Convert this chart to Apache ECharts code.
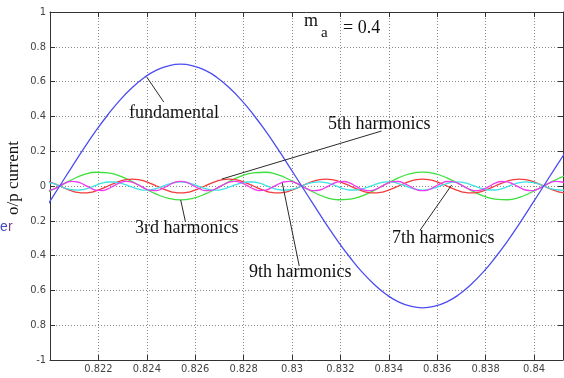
<!DOCTYPE html>
<html>
<head>
<meta charset="utf-8">
<script src="https://cdn.jsdelivr.net/npm/echarts@6/dist/echarts.min.js"></script>
<style>
  html, body { margin: 0; padding: 0; background: #fff; }
  #chart { width: 564px; height: 378px; }
</style>
</head>
<body>
<div id="chart"></div>
<script>
// time axis (s), coarse step for fundamental / 3rd, fine step for 5th, 7th, 9th
const tCoarse = [
  0.8199, 0.8204, 0.8209, 0.8214, 0.8219, 0.8224, 0.8229, 0.8234, 0.8239, 0.8244,
  0.8249, 0.8254, 0.8259, 0.8264, 0.8269, 0.8274, 0.8279, 0.8284, 0.8289, 0.8294,
  0.8299, 0.8304, 0.8309, 0.8314, 0.8319, 0.8324, 0.8329, 0.8334, 0.8339, 0.8344,
  0.8349, 0.8354, 0.8359, 0.8364, 0.8369, 0.8374, 0.8379, 0.8384, 0.8389, 0.8394,
  0.8399, 0.8404, 0.8409, 0.8414
]
const fundamental = [
  -0.109, 0, 0.109, 0.216, 0.318, 0.411, 0.495, 0.566, 0.624, 0.666,
  0.691, 0.7, 0.691, 0.666, 0.624, 0.566, 0.495, 0.411, 0.318, 0.216,
  0.109, 0, -0.109, -0.216, -0.318, -0.411, -0.495, -0.566, -0.624, -0.666,
  -0.691, -0.7, -0.691, -0.666, -0.624, -0.566, -0.495, -0.411, -0.318, -0.216,
  -0.109, 0, 0.109, 0.216
]
const third = [
  -0.036, 0, 0.036, 0.065, 0.079, 0.076, 0.057, 0.025, -0.013, -0.047,
  -0.071, -0.08, -0.071, -0.047, -0.013, 0.025, 0.057, 0.076, 0.079, 0.065,
  0.036, 0, -0.036, -0.065, -0.079, -0.076, -0.057, -0.025, 0.013, 0.047,
  0.071, 0.08, 0.071, 0.047, 0.013, -0.025, -0.057, -0.076, -0.079, -0.065,
  -0.036, 0, 0.036, 0.065
]

const tFine = [
  0.8199, 0.82015, 0.8204, 0.82065,
  0.8209, 0.82115, 0.8214, 0.82165,
  0.8219, 0.82215, 0.8224, 0.82265,
  0.8229, 0.82315, 0.8234, 0.82365,
  0.8239, 0.82415, 0.8244, 0.82465,
  0.8249, 0.82515, 0.8254, 0.82565,
  0.8259, 0.82615, 0.8264, 0.82665,
  0.8269, 0.82715, 0.8274, 0.82765,
  0.8279, 0.82815, 0.8284, 0.82865,
  0.8289, 0.82915, 0.8294, 0.82965,
  0.8299, 0.83015, 0.8304, 0.83065,
  0.8309, 0.83115, 0.8314, 0.83165,
  0.8319, 0.83215, 0.8324, 0.83265,
  0.8329, 0.83315, 0.8334, 0.83365,
  0.8339, 0.83415, 0.8344, 0.83465,
  0.8349, 0.83515, 0.8354, 0.83565,
  0.8359, 0.83615, 0.8364, 0.83665,
  0.8369, 0.83715, 0.8374, 0.83765,
  0.8379, 0.83815, 0.8384, 0.83865,
  0.8389, 0.83915, 0.8394, 0.83965,
  0.8399, 0.84015, 0.8404, 0.84065,
  0.8409, 0.84115, 0.8414
]
const fifth = [
  0.028, 0.015, 0, -0.015,
  -0.028, -0.037, -0.04, -0.037,
  -0.028, -0.015, 0, 0.015,
  0.028, 0.037, 0.04, 0.037,
  0.028, 0.015, 0, -0.015,
  -0.028, -0.037, -0.04, -0.037,
  -0.028, -0.015, 0, 0.015,
  0.028, 0.037, 0.04, 0.037,
  0.028, 0.015, 0, -0.015,
  -0.028, -0.037, -0.04, -0.037,
  -0.028, -0.015, 0, 0.015,
  0.028, 0.037, 0.04, 0.037,
  0.028, 0.015, 0, -0.015,
  -0.028, -0.037, -0.04, -0.037,
  -0.028, -0.015, 0, 0.015,
  0.028, 0.037, 0.04, 0.037,
  0.028, 0.015, 0, -0.015,
  -0.028, -0.037, -0.04, -0.037,
  -0.028, -0.015, 0, 0.015,
  0.028, 0.037, 0.04, 0.037,
  0.028, 0.015, 0, -0.015,
  -0.028, -0.037, -0.04
]
const seventh = [
  0.021, 0.013, 0, -0.013,
  -0.021, -0.024, -0.019, -0.009,
  0.004, 0.016, 0.023, 0.023,
  0.017, 0.006, -0.007, -0.018,
  -0.024, -0.022, -0.014, -0.002,
  0.011, 0.020, 0.024, 0.020,
  0.011, -0.002, -0.014, -0.022,
  -0.024, -0.018, -0.007, 0.006,
  0.017, 0.023, 0.023, 0.016,
  0.004, -0.009, -0.019, -0.024,
  -0.021, -0.013, 0, 0.013,
  0.021, 0.024, 0.019, 0.009,
  -0.004, -0.016, -0.023, -0.023,
  -0.017, -0.006, 0.007, 0.018,
  0.024, 0.022, 0.014, 0.002,
  -0.011, -0.020, -0.024, -0.020,
  -0.011, 0.002, 0.014, 0.022,
  0.024, 0.018, 0.007, -0.006,
  -0.017, -0.023, -0.023, -0.016,
  -0.004, 0.009, 0.019, 0.024,
  0.021, 0.013, 0, -0.013,
  -0.021, -0.024, -0.019
]
const ninth = [
  -0.027, -0.018, 0, 0.018,
  0.027, 0.023, 0.008, -0.010,
  -0.024, -0.026, -0.016, 0.002,
  0.019, 0.027, 0.022, 0.006,
  -0.012, -0.025, -0.026, -0.014,
  0.004, 0.021, 0.027, 0.021,
  0.004, -0.014, -0.026, -0.025,
  -0.012, 0.006, 0.022, 0.027,
  0.019, 0.002, -0.016, -0.026,
  -0.024, -0.010, 0.008, 0.023,
  0.027, 0.018, 0, -0.018,
  -0.027, -0.023, -0.008, 0.010,
  0.024, 0.026, 0.016, -0.002,
  -0.019, -0.027, -0.022, -0.006,
  0.012, 0.025, 0.026, 0.014,
  -0.004, -0.021, -0.027, -0.021,
  -0.004, 0.014, 0.026, 0.025,
  0.012, -0.006, -0.022, -0.027,
  -0.019, -0.002, 0.016, 0.026,
  0.024, 0.010, -0.008, -0.023,
  -0.027, -0.018, 0, 0.018,
  0.027, 0.023, 0.008
]

const xTickLabels = ['0.82', '0.822', '0.824', '0.826', '0.828', '0.83', '0.832', '0.834', '0.836', '0.838', '0.84']
// the scan lost the minus signs below zero, except on -1
const yTickLabels = ['-1', '0.8', '0.6', '0.4', '0.2', '0', '0.2', '0.4', '0.6', '0.8', '1']

const pairs = (xs, ys) => xs.map((x, i) => [x, ys[i]])

const tickFont = { color: '#444', fontSize: 11, fontFamily: "'Liberation Sans Narrow', 'DejaVu Sans Condensed', 'Liberation Sans', sans-serif" }
const serif = "'Liberation Serif', 'Times New Roman', serif"
const frame = { onZero: false, lineStyle: { color: '#333', width: 1 } }
const tick = { show: true, inside: true, length: 5, lineStyle: { color: '#333' } }
const dotted = { show: true, lineStyle: { color: '#8a8a8a', type: [1, 2], width: 1 } }

const chart = echarts.init(document.getElementById('chart'))

const curve = (name, xs, ys, color, extra) => Object.assign({
  name,
  type: 'line',
  data: pairs(xs, ys),
  showSymbol: false,
  smooth: true,
  clip: true,
  silent: true,
  lineStyle: { color, width: 1.3 }
}, extra || {})

const note = (left, top, text, size) => ({
  type: 'text',
  left, top,
  silent: true,
  style: { text, fill: '#111', font: (size || 18) + 'px ' + serif }
})

chart.setOption({
  animation: false,
  backgroundColor: '#fff',
  grid: { left: 50, right: 1, top: 12, bottom: 18 },
  xAxis: [{
    type: 'value',
    min: 0.82,
    max: 0.8412,
    interval: 0.002,
    axisLine: frame,
    axisTick: tick,
    axisLabel: Object.assign({
      margin: 4,
      showMinLabel: false,
      showMaxLabel: false,
      formatter: v => xTickLabels[Math.round((v - 0.82) / 0.002)] || ''
    }, tickFont),
    splitLine: dotted
  }, {
    type: 'value',
    position: 'top',
    min: 0.82,
    max: 0.8412,
    interval: 0.002,
    axisLine: frame,
    axisTick: tick,
    axisLabel: { show: false },
    splitLine: { show: false }
  }],
  yAxis: [{
    type: 'value',
    min: -1,
    max: 1,
    interval: 0.2,
    axisLine: Object.assign({ show: true }, frame),
    axisTick: tick,
    axisLabel: Object.assign({
      margin: 4,
      formatter: v => yTickLabels[Math.round((v + 1) / 0.2)] || ''
    }, tickFont),
    splitLine: dotted
  }, {
    type: 'value',
    position: 'right',
    min: -1,
    max: 1,
    interval: 0.2,
    axisLine: Object.assign({ show: true }, frame),
    axisTick: tick,
    axisLabel: { show: false },
    splitLine: { show: false }
  }],
  series: [
    curve('3rd', tCoarse, third, '#3ee03e'),
    curve('5th', tFine, fifth, '#f23c3c'),
    curve('7th', tFine, seventh, '#3fe3e6'),
    curve('9th', tFine, ninth, '#ee3cee'),
    curve('fundamental', tCoarse, fundamental, '#4c4cf2', {
      z: 3,
      markLine: {
        silent: true,
        symbol: ['none', 'none'],
        label: { show: false },
        lineStyle: { color: '#2a2a2a', width: 1, type: 'solid' },
        data: [
          [{ coord: [0.824, 0.626] }, { coord: [0.8247, 0.483] }],
          [{ coord: [0.8271, 0.04] }, { coord: [0.8337, 0.316] }],
          [{ coord: [0.8254, -0.08] }, { coord: [0.8256, -0.207] }],
          [{ coord: [0.8296, 0.017] }, { coord: [0.8303, -0.46] }],
          [{ coord: [0.8366, 0.006] }, { coord: [0.8353, -0.253] }]
        ]
      }
    })
  ],
  graphic: [
    note(129, 104, 'fundamental'),
    note(328, 115, '5th harmonics'),
    note(135, 219, '3rd harmonics'),
    note(249, 263, '9th harmonics'),
    note(392, 229, '7th harmonics'),
    note(304, 12, 'm'),
    note(321, 26, 'a', 15),
    note(343, 19, '= 0.4'),
    {
      type: 'text',
      left: 200, top: 42,
      silent: true,
      style: { text: '-  -  -      ·  ·  ·  ·', fill: '#cfcfcf', font: '9px sans-serif' }
    },
    {
      type: 'text',
      x: 14, y: 178,
      rotation: Math.PI / 2,
      silent: true,
      style: {
        text: 'o/p current',
        fill: '#111',
        font: '17px ' + serif,
        textAlign: 'center',
        textVerticalAlign: 'middle',
        align: 'center',
        verticalAlign: 'middle'
      }
    },
    {
      type: 'text',
      left: 0, top: 220,
      silent: true,
      style: { text: 'e', fill: '#3b4bc8', font: '14px sans-serif' }
    },
    {
      type: 'text',
      left: 8, top: 220,
      silent: true,
      style: { text: 'r', fill: '#7b3c8c', font: '14px sans-serif' }
    }
  ]
})
</script>
</body>
</html>
